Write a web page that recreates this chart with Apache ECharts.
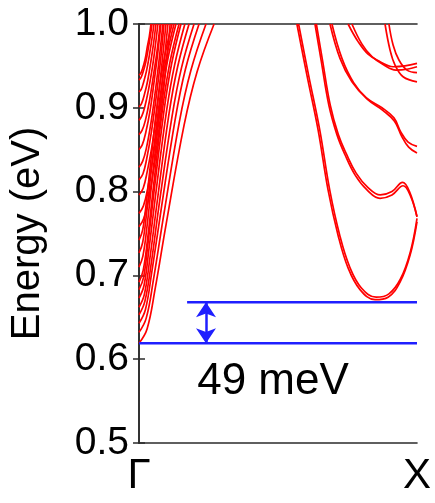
<!DOCTYPE html>
<html>
<head>
<meta charset="utf-8">
<script src="https://cdn.jsdelivr.net/npm/echarts@6/dist/echarts.min.js"></script>
<style>
  html, body { margin: 0; padding: 0; background: #ffffff; }
  #chart { width: 435px; height: 503px; }
</style>
</head>
<body>
<div id="chart"></div>
<script>
// Band energies (eV) along the Γ–X path; k is the fractional distance from Γ (0) to X (1).

// Subbands rising from the Γ point
const g01 = [[0, 0.619], [0.029, 0.636], [0.058, 0.684], [0.097, 0.760], [0.162, 0.879], [0.209, 0.943], [0.270, 1.0]];
const g02 = [[0, 0.632], [0.026, 0.649], [0.052, 0.695], [0.087, 0.768], [0.145, 0.883], [0.187, 0.945], [0.241, 1.0]];
const g03 = [[0, 0.643], [0.023, 0.659], [0.046, 0.704], [0.078, 0.775], [0.130, 0.886], [0.167, 0.946], [0.216, 1.0]];
const g04 = [[0, 0.653], [0.021, 0.669], [0.043, 0.712], [0.071, 0.781], [0.119, 0.890], [0.153, 0.948], [0.198, 1.0]];
const g05 = [[0, 0.662], [0.019, 0.677], [0.039, 0.720], [0.065, 0.787], [0.108, 0.893], [0.139, 0.949], [0.180, 1.0]];
const g06 = [[0, 0.673], [0.018, 0.688], [0.035, 0.729], [0.059, 0.794], [0.099, 0.896], [0.128, 0.951], [0.165, 1.0]];
const g07 = [[0, 0.683], [0.016, 0.697], [0.032, 0.737], [0.054, 0.800], [0.091, 0.899], [0.117, 0.952], [0.151, 1.0]];
const g08 = [[0, 0.692], [0.015, 0.706], [0.031, 0.744], [0.052, 0.806], [0.086, 0.902], [0.111, 0.954], [0.144, 1.0]];
const g09 = [[0, 0.710], [0.014, 0.723], [0.029, 0.759], [0.048, 0.817], [0.080, 0.908], [0.103, 0.957], [0.133, 1.0]];
const g10 = [[0, 0.727], [0.013, 0.739], [0.027, 0.773], [0.045, 0.828], [0.076, 0.913], [0.098, 0.959], [0.126, 1.0]];
const g11 = [[0, 0.742], [0.013, 0.754], [0.026, 0.786], [0.043, 0.838], [0.071, 0.918], [0.092, 0.961], [0.119, 1.0]];
const g12 = [[0, 0.758], [0.017, 0.768], [0.034, 0.790], [0.056, 0.833], [0.078, 0.891], [0.095, 0.942], [0.112, 1.0]];
const g13 = [[0, 0.774], [0.016, 0.783], [0.031, 0.803], [0.052, 0.844], [0.073, 0.898], [0.088, 0.946], [0.104, 1.0]];
const g14 = [[0, 0.796], [0.015, 0.804], [0.029, 0.823], [0.049, 0.859], [0.068, 0.908], [0.082, 0.951], [0.097, 1.0]];
const g15 = [[0, 0.814], [0.014, 0.821], [0.027, 0.838], [0.045, 0.872], [0.063, 0.916], [0.077, 0.955], [0.090, 1.0]];
const g16 = [[0, 0.829], [0.013, 0.836], [0.026, 0.851], [0.043, 0.882], [0.060, 0.923], [0.073, 0.959], [0.086, 1.0]];
const g17 = [[0, 0.850], [0.012, 0.856], [0.024, 0.870], [0.040, 0.897], [0.055, 0.933], [0.067, 0.964], [0.079, 1.0]];
const g18 = [[0, 0.868], [0.011, 0.873], [0.023, 0.885], [0.038, 0.909], [0.053, 0.941], [0.065, 0.968], [0.076, 1.0]];
const g19 = [[0, 0.885], [0.010, 0.890], [0.020, 0.900], [0.034, 0.921], [0.048, 0.948], [0.058, 0.972], [0.068, 1.0]];
const g20 = [[0, 0.901], [0.009, 0.905], [0.018, 0.914], [0.031, 0.932], [0.043, 0.956], [0.052, 0.976], [0.061, 1.0]];
const g21 = [[0, 0.919], [0.008, 0.922], [0.016, 0.930], [0.027, 0.944], [0.038, 0.964], [0.046, 0.981], [0.054, 1.0]];
const g22 = [[0, 0.933], [0.007, 0.936], [0.014, 0.942], [0.024, 0.954], [0.033, 0.970], [0.040, 0.984], [0.047, 1.0]];
const g23 = [[0, 0.939], [0.006, 0.941], [0.013, 0.947], [0.022, 0.958], [0.030, 0.973], [0.037, 0.985], [0.043, 1.0]];

// Bands descending towards the X point (spin-split pairs)
const xA1 = [[0.568, 1.0], [0.604, 0.939], [0.644, 0.874], [0.680, 0.802], [0.716, 0.748], [0.752, 0.709],
             [0.795, 0.683], [0.849, 0.671], [0.896, 0.674], [0.939, 0.692], [0.975, 0.724], [1.0, 0.764]];
const xA2 = [[0.574, 1.0], [0.610, 0.939], [0.650, 0.874], [0.686, 0.802], [0.722, 0.748], [0.758, 0.710],
             [0.800, 0.685], [0.853, 0.674], [0.899, 0.678], [0.941, 0.696], [0.976, 0.728], [1.0, 0.768]];
const xB1 = [[0.633, 1.0], [0.655, 0.957], [0.683, 0.903], [0.712, 0.868], [0.741, 0.844], [0.777, 0.820],
             [0.820, 0.802], [0.867, 0.792], [0.910, 0.796], [0.950, 0.807], [0.975, 0.796], [1.0, 0.770]];
const xB2 = [[0.638, 1.0], [0.660, 0.957], [0.688, 0.903], [0.717, 0.868], [0.746, 0.845], [0.781, 0.822],
             [0.823, 0.805], [0.868, 0.796], [0.910, 0.800], [0.948, 0.811], [0.973, 0.800], [1.0, 0.770]];
const xC1 = [[0.687, 1.0], [0.723, 0.959], [0.766, 0.931], [0.817, 0.912], [0.874, 0.900], [0.917, 0.888],
             [0.942, 0.871], [0.968, 0.859], [1.0, 0.854]];
const xC2 = [[0.694, 1.0], [0.730, 0.959], [0.772, 0.930], [0.822, 0.910], [0.877, 0.897], [0.919, 0.884],
             [0.945, 0.866], [0.970, 0.853], [1.0, 0.846]];
const xD1 = [[0.752, 1.0], [0.788, 0.979], [0.824, 0.964], [0.867, 0.955], [0.914, 0.949], [0.957, 0.950], [1.0, 0.953]];
const xD2 = [[0.766, 1.0], [0.802, 0.976], [0.838, 0.961], [0.881, 0.951], [0.924, 0.945], [0.964, 0.946], [1.0, 0.949]];
const xE1 = [[0.885, 1.0], [0.903, 0.969], [0.921, 0.951], [0.950, 0.937], [1.0, 0.931]];
const xE2 = [[0.899, 1.0], [0.914, 0.975], [0.935, 0.957], [0.964, 0.945], [1.0, 0.942]];

// Band-edge levels and the gap between them
const gapBottom = 0.619;              // eV, conduction-band minimum at Γ
const gapMeV = 49;                    // meV
const gapTop = gapBottom + gapMeV / 1000;
const gapText = gapMeV + ' meV';

// Axis tick labels
const yTickDecimals = 1;
const kPointLabels = ['Γ', 'X'];

const gammaBands = [g01, g02, g03, g04, g05, g06, g07, g08, g09, g10, g11, g12,
                    g13, g14, g15, g16, g17, g18, g19, g20, g21, g22, g23];
const xBands = [xA1, xA2, xB1, xB2, xC1, xC2, xD1, xD2, xE1, xE2];

const FONT = '"Liberation Sans", Arial, Helvetica, sans-serif';
const RED = '#ff0000';
const BLUE = '#1f1fff';
const AXIS = '#2b2b2b';

const chart = echarts.init(document.getElementById('chart'), null, { renderer: 'canvas' });

const series = [];
gammaBands.concat(xBands).forEach(function (band) {
  series.push({
    type: 'line',
    data: band,
    smooth: 0.4,
    symbol: 'none',
    silent: true,
    clip: true,
    lineStyle: { color: RED, width: 1.7 },
    z: 2
  });
});

// lower band edge across the whole path
series.push({
  type: 'line',
  data: [[0, gapBottom], [1, gapBottom]],
  symbol: 'none',
  silent: true,
  lineStyle: { color: BLUE, width: 2.5 },
  z: 3
});

// upper band edge with the double arrow spanning the gap
series.push({
  type: 'line',
  data: [[0.173, gapTop], [1, gapTop]],
  symbol: 'none',
  silent: true,
  lineStyle: { color: BLUE, width: 2.5 },
  z: 3,
  markLine: {
    silent: true,
    symbol: ['arrow', 'arrow'],
    symbolSize: [15, 15],
    label: { show: false },
    lineStyle: { color: BLUE, width: 2.5, type: 'solid' },
    data: [[{ coord: [0.241, gapBottom] }, { coord: [0.241, gapTop] }]]
  }
});

// gap annotation
series.push({
  type: 'scatter',
  data: [[0.482, 0.573]],
  symbolSize: 0,
  silent: true,
  itemStyle: { opacity: 1, color: 'transparent' },
  label: {
    show: true,
    position: 'inside',
    formatter: gapText,
    fontFamily: FONT,
    fontSize: 44,
    color: '#000000',
    opacity: 1
  },
  z: 4
});

chart.setOption({
  animation: false,
  backgroundColor: '#ffffff',
  grid: { left: 139, right: 18, top: 24, bottom: 60, containLabel: false },
  xAxis: [
    {
      type: 'value', min: 0, max: 1, interval: 1, position: 'bottom',
      axisLine: { show: true, lineStyle: { color: AXIS, width: 1.6 } },
      axisTick: { show: false },
      splitLine: { show: false },
      axisLabel: {
        formatter: function (v) { return v === 0 ? kPointLabels[0] : kPointLabels[1]; },
        fontFamily: FONT, fontSize: 42, color: '#000000', margin: 12
      }
    },
    {
      type: 'value', min: 0, max: 1, interval: 1, position: 'top',
      axisLine: { show: true, onZero: false, lineStyle: { color: AXIS, width: 1.6 } },
      axisTick: { show: false },
      axisLabel: { show: false },
      splitLine: { show: false }
    }
  ],
  yAxis: [
    {
      type: 'value', min: 0.5, max: 1.0, interval: 0.1, position: 'left',
      axisLine: { show: true, lineStyle: { color: AXIS, width: 1.6 } },
      axisTick: { show: true, inside: true, length: 6, lineStyle: { color: AXIS, width: 1.5 } },
      splitLine: { show: false },
      axisLabel: {
        formatter: function (v) { return v.toFixed(yTickDecimals); },
        fontFamily: FONT, fontSize: 39, color: '#000000', margin: 10
      },
      name: 'Energy (eV)',
      nameLocation: 'middle',
      nameGap: 91,
      nameTextStyle: { fontFamily: FONT, fontSize: 40, color: '#000000' }
    },
    {
      type: 'value', min: 0.5, max: 1.0, interval: 0.1, position: 'right',
      axisLine: { show: true, lineStyle: { color: AXIS, width: 1.6 } },
      axisTick: { show: true, inside: true, length: 6, lineStyle: { color: AXIS, width: 1.5 } },
      axisLabel: { show: false },
      splitLine: { show: false }
    }
  ],
  series: series
});
</script>
</body>
</html>
